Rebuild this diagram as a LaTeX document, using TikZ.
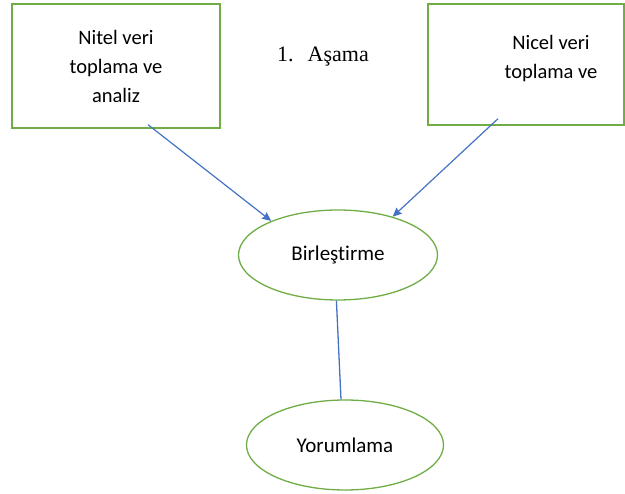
\documentclass[tikz,border=0pt]{standalone}
\usepackage{fontspec}
\setmainfont{Carlito}[Ligatures=NoCommon]
\newfontfamily\timesfont{Liberation Serif}
\usetikzlibrary{shapes.geometric,calc,arrows.meta}
\definecolor{wgreen}{RGB}{112,173,71}
\definecolor{wblue}{RGB}{68,114,196}
\tikzstyle{box} = [rectangle, draw=wgreen, line width=1.4pt, align=center, font=\fontsize{20.5}{29}\selectfont]
\tikzstyle{oval} = [ellipse, draw=wgreen, line width=1.3pt, inner sep=0pt, font=\fontsize{21}{25}\selectfont]
\tikzstyle{arrow} = [draw=wblue, line width=1.2pt, ->, >={Stealth[length=9pt, width=8pt, inset=1pt]}]
\tikzstyle{link} = [draw=wblue, line width=1.3pt]

\begin{document}
\begin{tikzpicture}[x=1pt, y=-1pt]
\useasboundingbox (0,0) rectangle (625,494);
\node (nitel) [box, minimum width=208pt, minimum height=124pt] at (116,66) {Nitel veri\\toplama ve\\analiz};
\node (nicel) [box, minimum width=196pt, minimum height=121pt] at (526,64.5) {};
\node (niceltxt) [align=center, font=\fontsize{20.5}{29}\selectfont] at (551,58.5) {Nicel veri\\toplama ve};
\node (asama) [font=\timesfont\fontsize{22}{26}\selectfont] at (323,57) {1.\hspace{14pt}Aşama};
\node (birles) [oval, minimum width=199pt, minimum height=90pt] at (338,255) {Birleştirme};
\node (yorum) [oval, minimum width=197pt, minimum height=90pt] at (345,445) {Yorumlama};

\draw [arrow] ($(nitel.south)+(32,-4)$) -- (birles.153);
\draw [arrow] ($(nicel.south)+(-28,-7)$) -- (birles.35);
\draw [link] (birles.268) -- ($(yorum.north)+(-4,0)$);
\end{tikzpicture}
\end{document}
